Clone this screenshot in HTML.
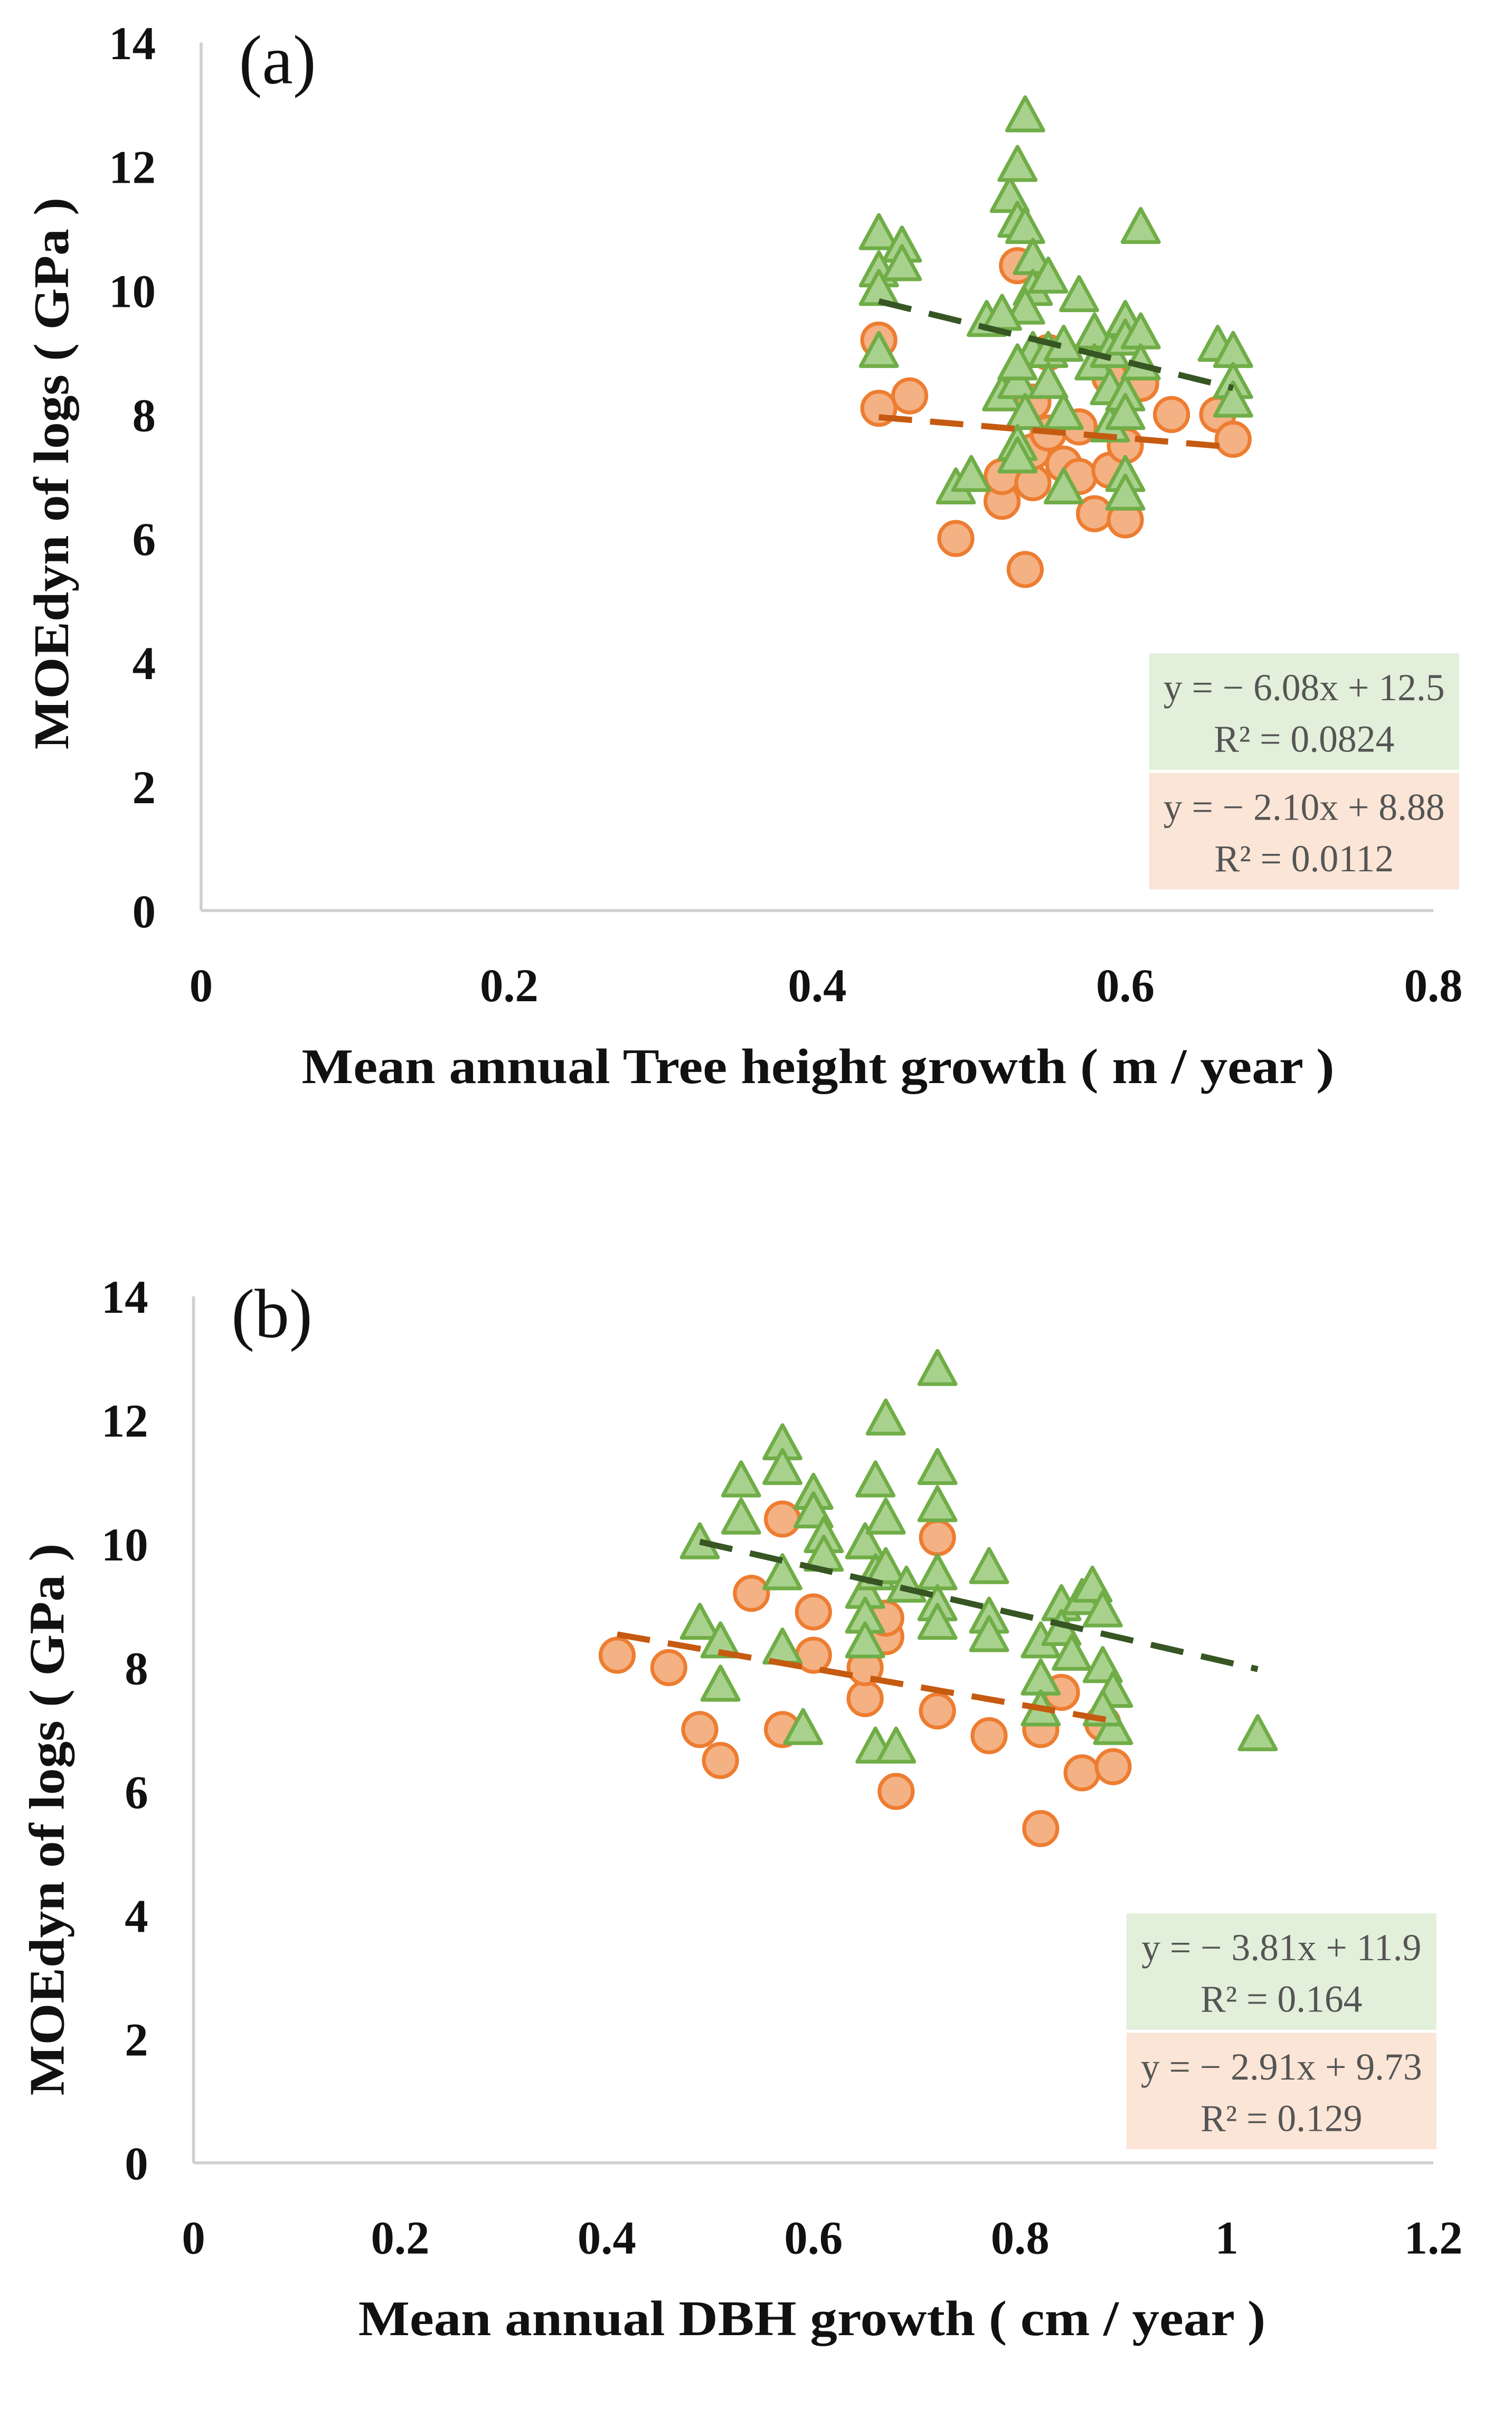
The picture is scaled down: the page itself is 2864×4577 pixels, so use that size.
<!DOCTYPE html>
<html><head><meta charset="utf-8"><style>
html,body{margin:0;padding:0;background:#fff}
svg{display:block}
text{font-family:"Liberation Serif",serif}
.tk{font-size:31px;font-weight:bold;fill:#111}
.ttl{font-size:33px;font-weight:bold;fill:#111}
.eq{font-size:25px;fill:#555}
</style></head><body>
<svg id="chart" width="2864" height="4577" viewBox="0 0 1000 1598" xmlns="http://www.w3.org/2000/svg">
<g id="pa"></g>
<g id="pb"></g>
</svg>
<script>
const aGreenX=[0.44,0.44,0.44,0.44,0.455,0.455,0.49,0.50,0.51,0.52,0.525,0.53,0.53,0.535,0.535,0.54,0.54,0.535,0.54,0.53,0.53,0.535,0.53,0.53,0.55,0.55,0.56,0.56,0.56,0.57,0.58,0.58,0.59,0.59,0.59,0.60,0.60,0.60,0.60,0.60,0.61,0.61,0.61,0.60,0.66,0.67,0.67,0.67,0.55,0.52];
const aGreenY=[10.9,10.3,9.0,10.0,10.7,10.4,6.8,7.0,9.5,8.3,11.5,12.0,11.1,12.8,11.0,10.5,10.0,9.7,9.0,8.5,8.8,8.0,7.5,7.3,9.0,8.5,9.1,8.0,6.8,9.9,9.3,8.8,9.0,8.4,7.8,9.5,9.2,8.3,7.0,6.7,11.0,9.3,8.8,8.0,9.1,9.0,8.5,8.2,10.2,9.6];
const aOrX=[0.44,0.44,0.46,0.49,0.53,0.52,0.52,0.535,0.54,0.54,0.54,0.55,0.55,0.56,0.57,0.57,0.58,0.59,0.60,0.60,0.61,0.63,0.66,0.67,0.59];
const aOrY=[9.2,8.1,8.3,6.0,10.4,6.6,7.0,5.5,6.9,8.2,7.4,7.7,9.0,7.2,7.0,7.8,6.4,7.1,6.3,7.5,8.5,8.0,8.0,7.6,8.6];
const bGreenX=[0.49,0.49,0.51,0.51,0.53,0.53,0.57,0.57,0.57,0.57,0.59,0.60,0.60,0.61,0.61,0.65,0.65,0.65,0.65,0.66,0.66,0.67,0.67,0.67,0.66,0.68,0.72,0.72,0.72,0.72,0.72,0.72,0.77,0.77,0.77,0.82,0.82,0.82,0.84,0.84,0.85,0.86,0.87,0.88,0.88,0.89,0.89,0.88,1.03,0.69];
const bGreenY=[10.0,8.7,8.4,7.7,11.0,10.4,11.6,11.2,9.5,8.3,7.0,10.8,10.5,10.1,9.8,10.0,9.2,8.8,8.4,11.0,9.5,12.0,10.4,9.6,6.7,6.7,12.8,11.2,10.6,9.5,9.0,8.7,9.6,8.8,8.5,8.4,7.8,7.3,9.0,8.6,8.2,9.1,9.3,8.9,8.0,7.6,7.0,7.3,6.9,9.3];
const bOrX=[0.41,0.46,0.49,0.51,0.54,0.57,0.57,0.60,0.60,0.65,0.65,0.67,0.68,0.72,0.72,0.77,0.82,0.82,0.84,0.86,0.88,0.89,0.67];
const bOrY=[8.2,8.0,7.0,6.5,9.2,10.4,7.0,8.9,8.2,7.5,8.0,8.5,6.0,10.1,7.3,6.9,7.0,5.4,7.6,6.3,7.1,6.4,8.8];
const aXTicks=["0","0.2","0.4","0.6","0.8"];
const bXTicks=["0","0.2","0.4","0.6","0.8","1","1.2"];
const yTicks=["0","2","4","6","8","10","12","14"];
const aGreenFit=[-6.08,12.5], aOrFit=[-2.10,8.88];
const bGreenFit=[-3.81,11.9], bOrFit=[-2.91,9.73];

const NS="http://www.w3.org/2000/svg";
function mk(p,tag,attrs,txt){const e=document.createElementNS(NS,tag);for(const k in attrs)e.setAttribute(k,attrs[k]);if(txt!==undefined)e.textContent=txt;p.appendChild(e);return e;}

function panel(g,cfg){
  const sx=v=>cfg.x0+(v/cfg.xmax)*(cfg.x1-cfg.x0);
  const sy=v=>cfg.y0-(v/14)*(cfg.y0-cfg.y14);
  let l=mk(g,'line',{x1:cfg.x0,y1:cfg.y14,x2:cfg.x0,y2:cfg.y0,stroke:'#d0d0d0','stroke-width':2});
  
  
  l=mk(g,'line',{x1:cfg.x0,y1:cfg.y0,x2:cfg.x1,y2:cfg.y0,stroke:'#d0d0d0','stroke-width':2});
  
  
  yTicks.forEach(t=>{const e=mk(g,'text',{x:cfg.x0-30,y:sy(+t)+11,'text-anchor':'end',class:'tk'},t);
    
    });
  cfg.xt.forEach(t=>{const e=mk(g,'text',{x:sx(+t),y:cfg.y0+60,'text-anchor':'middle',class:'tk'},t);
    
    });
  let e=mk(g,'text',{x:cfg.x0+25,y:cfg.y14+27,style:'font-size:46px;fill:#111'},cfg.lab);
  
  
  e=mk(g,'text',{x:cfg.xtx,y:cfg.y0+114,'text-anchor':'middle',class:'ttl',textLength:cfg.xtl,lengthAdjust:'spacingAndGlyphs'},cfg.xtitle);
  
  
  e=mk(g,'text',{x:0,y:0,'text-anchor':'middle',class:'ttl',textLength:365,lengthAdjust:'spacingAndGlyphs',transform:`translate(${cfg.ytx},${cfg.ytc}) rotate(-90)`},'MOEdyn of logs ( GPa )');
  
  
  cfg.ox.forEach((x,i)=>{const c=mk(g,'circle',{cx:sx(x),cy:sy(cfg.oy[i]),r:11,fill:'#f4b183',stroke:'#ed7d31','stroke-width':2.5});
    
    });
  cfg.gx.forEach((x,i)=>{const cx=sx(x),cy=sy(cfg.gy[i]);
    const p=mk(g,'polygon',{points:`${cx},${cy-13} ${cx-12},${cy+9} ${cx+12},${cy+9}`,fill:'#a9d18e',stroke:'#70ad47','stroke-width':2.5,'stroke-linejoin':'round'});
    
    });
  const tl=(fit,xs,col,name)=>{const a=Math.min(...xs),b=Math.max(...xs);
    const ln=mk(g,'line',{x1:sx(a),y1:sy(fit[0]*a+fit[1]),x2:sx(b),y2:sy(fit[0]*b+fit[1]),stroke:col,'stroke-width':4,'stroke-dasharray':'22 12'});
    
    };
  tl(cfg.gf,cfg.gx,'#375623','green-trendline');
  tl(cfg.of,cfg.ox,'#c55a11','orange-trendline');
  const box=(y,fill,l1,l2,name)=>{const r=mk(g,'rect',{x:cfg.bx,y:y,width:cfg.bw,height:77,fill:fill});
    
    
    mk(g,'text',{x:cfg.bx+cfg.bw/2,y:y+31,'text-anchor':'middle',class:'eq'},l1);
    mk(g,'text',{x:cfg.bx+cfg.bw/2,y:y+65,'text-anchor':'middle',class:'eq'},l2);};
  box(cfg.by,'#e2efda',cfg.ge[0],cfg.ge[1],'green-equation-box');
  box(cfg.by+79,'#fbe5d6',cfg.oe[0],cfg.oe[1],'orange-equation-box');
}
panel(document.getElementById('pa'),{x0:133,x1:948,xmax:0.8,y0:602,y14:28,xt:aXTicks,lab:'(a)',xtitle:'Mean annual Tree height growth ( m / year )',xtx:541,xtl:683,ytx:45,ytc:313,
  gx:aGreenX,gy:aGreenY,ox:aOrX,oy:aOrY,gf:aGreenFit,of:aOrFit,bx:760,bw:205,by:432,
  ge:['y = − 6.08x + 12.5','R² = 0.0824'],oe:['y = − 2.10x + 8.88','R² = 0.0112']});
panel(document.getElementById('pb'),{x0:128,x1:948,xmax:1.2,y0:1430,y14:857,xt:bXTicks,lab:'(b)',xtitle:'Mean annual DBH growth ( cm / year )',xtx:537,xtl:600,ytx:42,ytc:1203,
  gx:bGreenX,gy:bGreenY,ox:bOrX,oy:bOrY,gf:bGreenFit,of:bOrFit,bx:745,bw:205,by:1265,
  ge:['y = − 3.81x + 11.9','R² = 0.164'],oe:['y = − 2.91x + 9.73','R² = 0.129']});
</script>
</body></html>
